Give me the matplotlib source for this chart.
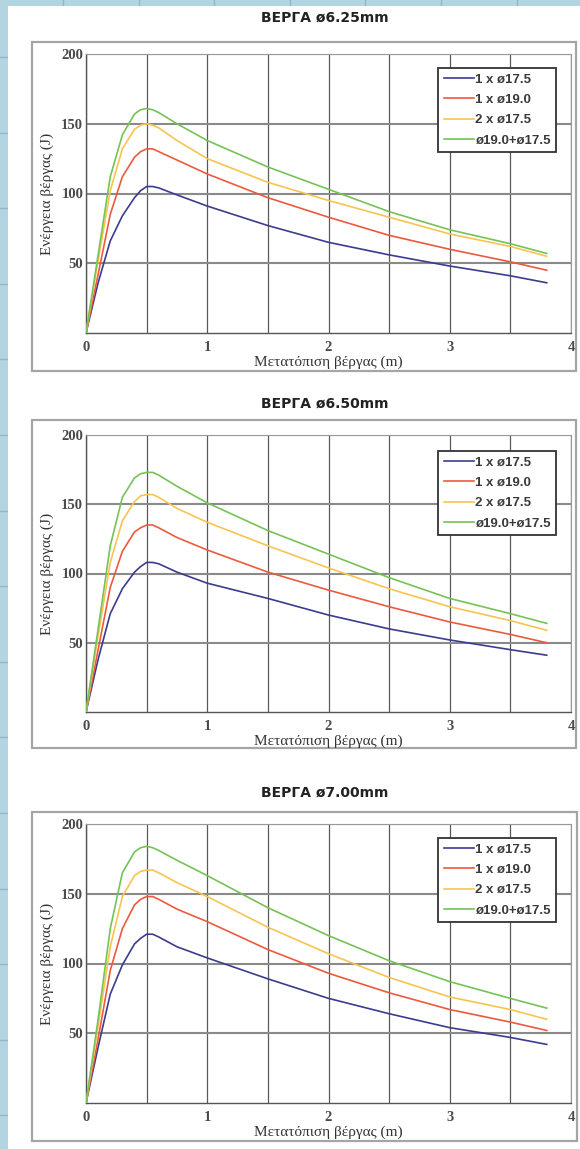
import numpy as np
import matplotlib
matplotlib.use("Agg")
import matplotlib.pyplot as plt
from matplotlib.patches import Rectangle
from matplotlib.lines import Line2D

W, H = 580, 1149

# shared x positions (m)
x = [0, 0.1, 0.2, 0.3, 0.4, 0.45, 0.5, 0.55, 0.6, 0.75, 1.0, 1.5, 2.0, 2.5, 3.0, 3.5, 3.8]

labels = ["1 x ø17.5", "1 x ø19.0", "2 x ø17.5", "ø19.0+ø17.5"]
colors = ["#3c3c8e", "#ec5a3e", "#f7c451", "#76c256"]

titles = ["ΒΕΡΓΑ ø6.25mm", "ΒΕΡΓΑ ø6.50mm", "ΒΕΡΓΑ ø7.00mm"]

# ø6.25mm
blue_625 = [0, 36, 66, 84, 97, 102, 105, 105, 104, 99, 91, 77, 65, 56, 48, 41, 36]
red_625 = [0, 42, 85, 112, 126, 130, 132, 132, 130, 124, 114, 97, 83, 70, 60, 51, 45]
yellow_625 = [0, 52, 102, 132, 146, 149, 150, 149, 147, 138, 125, 108, 95, 83, 71, 62, 55]
green_625 = [0, 56, 112, 142, 157, 160, 161, 160, 158, 150, 138, 119, 103, 87, 74, 64, 57]

# ø6.50mm
blue_650 = [0, 38, 71, 89, 101, 105, 108, 108, 107, 101, 93, 82, 70, 60, 52, 45, 41]
red_650 = [0, 45, 90, 116, 130, 133, 135, 135, 133, 126, 117, 101, 88, 76, 65, 56, 50]
yellow_650 = [0, 55, 108, 138, 152, 156, 157, 157, 155, 147, 137, 120, 104, 89, 76, 66, 59]
green_650 = [0, 60, 120, 155, 169, 172, 173, 173, 171, 163, 151, 131, 114, 97, 82, 71, 64]

# ø7.00mm
blue_700 = [0, 40, 78, 99, 114, 118, 121, 121, 119, 112, 104, 89, 75, 64, 54, 47, 42]
red_700 = [0, 46, 95, 125, 142, 146, 148, 148, 146, 139, 130, 110, 93, 79, 67, 58, 52]
yellow_700 = [0, 55, 112, 148, 163, 166, 167, 167, 165, 158, 148, 126, 107, 90, 76, 67, 60]
green_700 = [0, 60, 125, 165, 180, 183, 184, 183, 181, 174, 163, 140, 120, 102, 87, 75, 68]

series = [
    [blue_625, red_625, yellow_625, green_625],
    [blue_650, red_650, yellow_650, green_650],
    [blue_700, red_700, yellow_700, green_700],
]

xticks = [0, 1, 2, 3, 4]
yticks = [50, 100, 150, 200]

# layout in pixels: axes (y of value 0, y of value 200), frame, title y, legend top
ax_y = [(333, 54), (712, 435), (1103, 824)]
frames = [(32, 42, 576, 371), (32, 420, 576, 748), (32, 812, 577, 1141)]
title_y = [18, 404, 793]
leg_top = [68, 451, 838]
ax_x0, ax_x1 = 86, 571


def fx(px):
    return px / W


def fy(py):
    return 1 - py / H


fig = plt.figure(figsize=(W / 100, H / 100), dpi=100)
fig.patch.set_facecolor("#b3d4e1")

# page background grid
for gx in np.arange(63 - 75.6, W, 75.6):
    fig.add_artist(Line2D([fx(gx)] * 2, [0, 1], color="#8db9cf", lw=1.0, zorder=0))
for gy in np.arange(57 - 75.6, H, 75.6):
    fig.add_artist(Line2D([0, 1], [fy(gy)] * 2, color="#8db9cf", lw=1.0, zorder=0))
fig.add_artist(Rectangle((fx(8), 0), fx(W - 8), fy(6), transform=fig.transFigure,
                         facecolor="white", edgecolor="none", zorder=0.5))

serif = "Liberation Serif"

for i in range(3):
    y0, y200 = ax_y[i]
    ax = fig.add_axes([fx(ax_x0), fy(y0), (ax_x1 - ax_x0) / W, (y0 - y200) / H])
    ax.set_zorder(2)
    ax.set_facecolor("white")

    ax.set_xlim(0, 4)
    ax.set_ylim(0, 200)
    ax.set_xticks(xticks)
    ax.set_xticks(np.arange(0.5, 4, 0.5), minor=True)
    ax.set_yticks(yticks)

    ax.grid(which="both", axis="x", color="#5a5a5a", lw=0.9)
    ax.grid(axis="y", color="#8a8a8a", lw=1.5)
    ax.tick_params(which="both", length=0)
    ax.tick_params(axis="x", pad=6)
    ax.tick_params(axis="y", pad=2)
    for lab in ax.get_xticklabels() + ax.get_yticklabels():
        lab.set_fontfamily(serif)
        lab.set_fontsize(10.5)
        lab.set_fontweight("bold")
        lab.set_color("#4a4a4a")

    for s in ["left", "bottom"]:
        ax.spines[s].set_color("#555555")
        ax.spines[s].set_linewidth(1.0)
    for s in ["top", "right"]:
        ax.spines[s].set_color("#999999")
        ax.spines[s].set_linewidth(0.8)

    for vals, c, lab in zip(series[i], colors, labels):
        ax.plot(x, vals, color=c, lw=1.2, label=lab, zorder=3)

    ax.set_xlabel("Μετατόπιση βέργας (m)", fontfamily=serif, fontsize=11,
                  color="#333333", labelpad=1)
    ax.set_ylabel("Ενέργεια βέργας (J)", fontfamily=serif, fontsize=11,
                  color="#333333", labelpad=5)

    top = (y0 - leg_top[i]) / (y0 - y200)
    right = (556 - ax_x0) / (ax_x1 - ax_x0)
    leg = ax.legend(loc="upper right", bbox_to_anchor=(right, top), borderaxespad=0,
                    fancybox=False, framealpha=1, edgecolor="#333333",
                    prop={"family": "Liberation Sans", "size": 9.5, "weight": "bold"},
                    handlelength=2.3, handletextpad=0.1, labelspacing=0.62,
                    borderpad=0.4)
    leg.get_frame().set_linewidth(1.3)
    for t in leg.get_texts():
        t.set_color("#3a3a3a")

    fl, ft, fr, fb = frames[i]
    fig.add_artist(Rectangle((fx(fl), fy(fb)), (fr - fl) / W, (fb - ft) / H,
                             transform=fig.transFigure, fill=False,
                             edgecolor="#a5a5a5", lw=1.6, zorder=1))
    fig.text(fx(325), fy(title_y[i]), titles[i], ha="center", va="center",
             fontsize=10, fontweight="bold", family="DejaVu Sans", color="#222222")

fig.savefig("out.png", dpi=100)
